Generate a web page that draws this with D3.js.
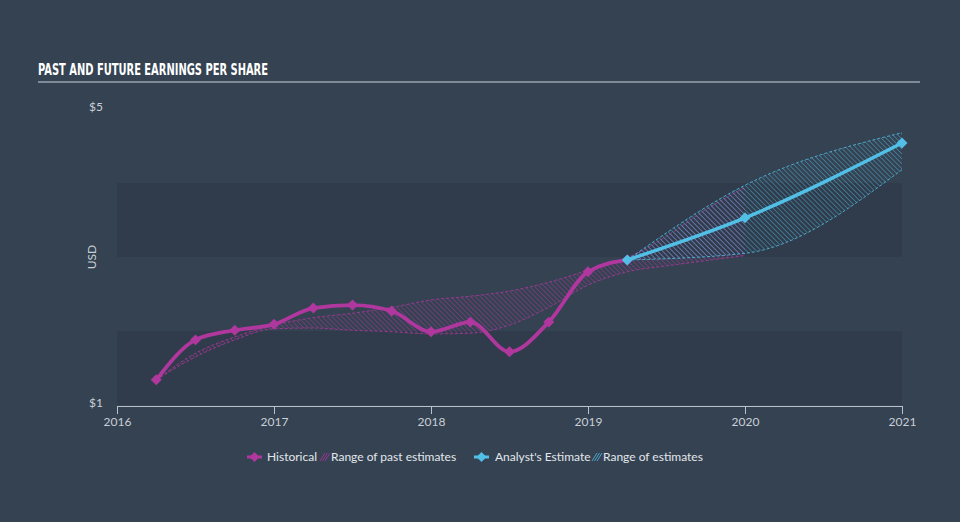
<!DOCTYPE html>
<html><head><meta charset="utf-8">
<script src="https://cdn.jsdelivr.net/npm/d3@7"></script>
<style>
html,body{margin:0;padding:0;background:#344252;}
svg{display:block;}
</style></head>
<body>
<svg id="chart" width="960" height="522"></svg>
<script>
// ---- data ----
const yearTicks = [2016, 2017, 2018, 2019, 2020, 2021];
const yTickValues = [1, 5];
const yTickLabels = ["$1", "$5"];
const histDates = [2016.25, 2016.5, 2016.75, 2017.0, 2017.25, 2017.5, 2017.75, 2018.0, 2018.25, 2018.5, 2018.75, 2019.0, 2019.25];
const histEPS   = [1.34, 1.88, 2.01, 2.09, 2.31, 2.35, 2.27, 1.99, 2.12, 1.72, 2.12, 2.80, 2.96];
const pastRangeDates = [2016.25, 2016.5, 2016.75, 2017.0, 2017.25, 2017.5, 2017.75, 2018.0, 2018.25, 2018.5, 2018.75, 2019.0, 2019.25, 2019.5, 2019.75, 2020.0];
const pastLow  = [1.34, 1.65, 1.88, 2.03, 2.04, 2.01, 1.99, 1.96, 1.97, 2.08, 2.32, 2.62, 2.80, 2.88, 2.95, 3.02];
const pastHigh = [1.34, 1.70, 1.92, 2.08, 2.18, 2.24, 2.32, 2.42, 2.47, 2.54, 2.66, 2.82, 2.99, 3.28, 3.64, 3.94];
const estDates = [2019.25, 2020.0, 2021.0];
const estEPS   = [2.96, 3.53, 4.54];
const estLow   = [2.96, 3.05, 4.18];
const estHigh  = [2.96, 3.97, 4.68];
const bandRanges = [[1, 2], [3, 4]];

// ---- styles ----
const MAG = "#b0379d";
const BLUE = "#52bfe6";
const TXT = "#c9cfd6";
const FONT = "Lato, 'Open Sans', sans-serif";

const svg = d3.select("#chart");
const x = d3.scaleLinear().domain([2016, 2021]).range([117, 902]);
const y = d3.scaleLinear().domain([1, 5]).range([405, 109]);

// patterns
const defs = svg.append("defs");
function hatch(id, color) {
  const p = defs.append("pattern").attr("id", id).attr("patternUnits", "userSpaceOnUse")
    .attr("width", 3.5).attr("height", 3.5).attr("patternTransform", "rotate(-45)");
  p.append("line").attr("x1", 0).attr("y1", 0).attr("x2", 0).attr("y2", 3.5)
    .attr("stroke", color).attr("stroke-width", 1.2);
}
hatch("hMag", MAG);
hatch("hBlue", BLUE);

// title
svg.append("text").attr("x", 38).attr("y", 75)
  .attr("font-family", "'Liberation Sans Narrow','DejaVu Sans Condensed',sans-serif")
  .attr("font-weight", "bold").attr("font-size", 16).attr("fill", "#ffffff")
  .attr("textLength", 230).attr("lengthAdjust", "spacingAndGlyphs")
  .text("PAST AND FUTURE EARNINGS PER SHARE");
svg.append("line").attr("x1", 38).attr("x2", 920).attr("y1", 82).attr("y2", 82)
  .attr("stroke", "#9aa4b0").attr("stroke-width", 1.5);

// bands
svg.selectAll("rect.band").data(bandRanges).enter().append("rect")
  .attr("class", "band")
  .attr("x", x(2016)).attr("width", x(2021) - x(2016))
  .attr("y", d => y(d[1])).attr("height", d => y(d[0]) - y(d[1]))
  .attr("fill", "#303c4b");

// y labels
svg.selectAll("text.ylab").data(yTickValues).enter().append("text")
  .attr("class", "ylab")
  .attr("x", 103).attr("y", d => y(d) - 2).attr("dy", "0.35em")
  .attr("text-anchor", "end").attr("font-family", FONT).attr("font-size", 12)
  .attr("fill", TXT).text((d, i) => yTickLabels[i]);
svg.append("text").attr("transform", `translate(96,${y(3)}) rotate(-90)`)
  .attr("text-anchor", "middle").attr("font-family", FONT).attr("font-size", 12)
  .attr("fill", TXT).text("USD");

// x axis
const xAxis = d3.axisBottom(x).tickValues(yearTicks).tickFormat(d3.format("d"))
  .tickSize(8).tickSizeOuter(0).tickPadding(3);
const gx = svg.append("g").attr("transform", "translate(0,406)").call(xAxis);
gx.select(".domain").attr("stroke", "#b9c1ca");
gx.selectAll(".tick line").attr("stroke", "#b9c1ca");
gx.selectAll(".tick text").attr("fill", TXT).attr("font-family", FONT).attr("font-size", 12);

// ranges
function drawRange(dates, lo, hi, color, pat, op) {
  const d = dates.map((t, i) => ({t, lo: lo[i], hi: hi[i]}));
  const area = d3.area().x(p => x(p.t)).y0(p => y(p.lo)).y1(p => y(p.hi)).curve(d3.curveMonotoneX);
  svg.append("path").datum(d).attr("d", area).attr("fill", `url(#${pat})`).attr("opacity", op);
  [p => p.lo, p => p.hi].forEach(acc => {
    const ln = d3.line().x(p => x(p.t)).y(p => y(acc(p))).curve(d3.curveMonotoneX);
    svg.append("path").datum(d).attr("d", ln).attr("fill", "none")
      .attr("stroke", color).attr("stroke-width", 1).attr("stroke-dasharray", "3,2").attr("opacity", 0.8);
  });
}
drawRange(pastRangeDates, pastLow, pastHigh, MAG, "hMag", 0.75);
drawRange(estDates, estLow, estHigh, BLUE, "hBlue", 0.7);

// lines
function drawLine(dates, vals, color, w) {
  const d = dates.map((t, i) => ({t, v: vals[i]}));
  const ln = d3.line().x(p => x(p.t)).y(p => y(p.v)).curve(d3.curveMonotoneX);
  svg.append("path").datum(d).attr("d", ln).attr("fill", "none")
    .attr("stroke", color).attr("stroke-width", w).attr("stroke-linecap", "round");
  svg.append("g").selectAll("path").data(d).enter().append("path")
    .attr("d", d3.symbol(d3.symbolSquare, 60)())
    .attr("transform", p => `translate(${x(p.t)},${y(p.v)}) rotate(45)`)
    .attr("fill", color);
}
drawLine(histDates, histEPS, MAG, 3.8);
drawLine(estDates, estEPS, BLUE, 3.5);

// legend
const lg = svg.append("g").attr("font-family", FONT).attr("font-size", 12).attr("fill", "#e3e7ec");
function legLine(x0, color) {
  lg.append("line").attr("x1", x0).attr("x2", x0 + 15).attr("y1", 457).attr("y2", 457)
    .attr("stroke", color).attr("stroke-width", 3);
  lg.append("path").attr("d", d3.symbol(d3.symbolSquare, 50)())
    .attr("transform", `translate(${x0 + 7.5},457) rotate(45)`).attr("fill", color);
}
function legHatch(x0, color) {
  for (let k = 0; k < 3; k++) {
    lg.append("line").attr("x1", x0 + k * 2.5).attr("y1", 461).attr("x2", x0 + k * 2.5 + 5).attr("y2", 453)
      .attr("stroke", color).attr("stroke-width", 1).attr("opacity", 0.8);
  }
}
legLine(247, MAG);
lg.append("text").attr("x", 267).attr("y", 461).text("Historical");
legHatch(320, MAG);
lg.append("text").attr("x", 331).attr("y", 461).text("Range of past estimates");
legLine(474, BLUE);
lg.append("text").attr("x", 495).attr("y", 461).text("Analyst's Estimate");
legHatch(592, BLUE);
lg.append("text").attr("x", 603).attr("y", 461).text("Range of estimates");
</script>
</body></html>
